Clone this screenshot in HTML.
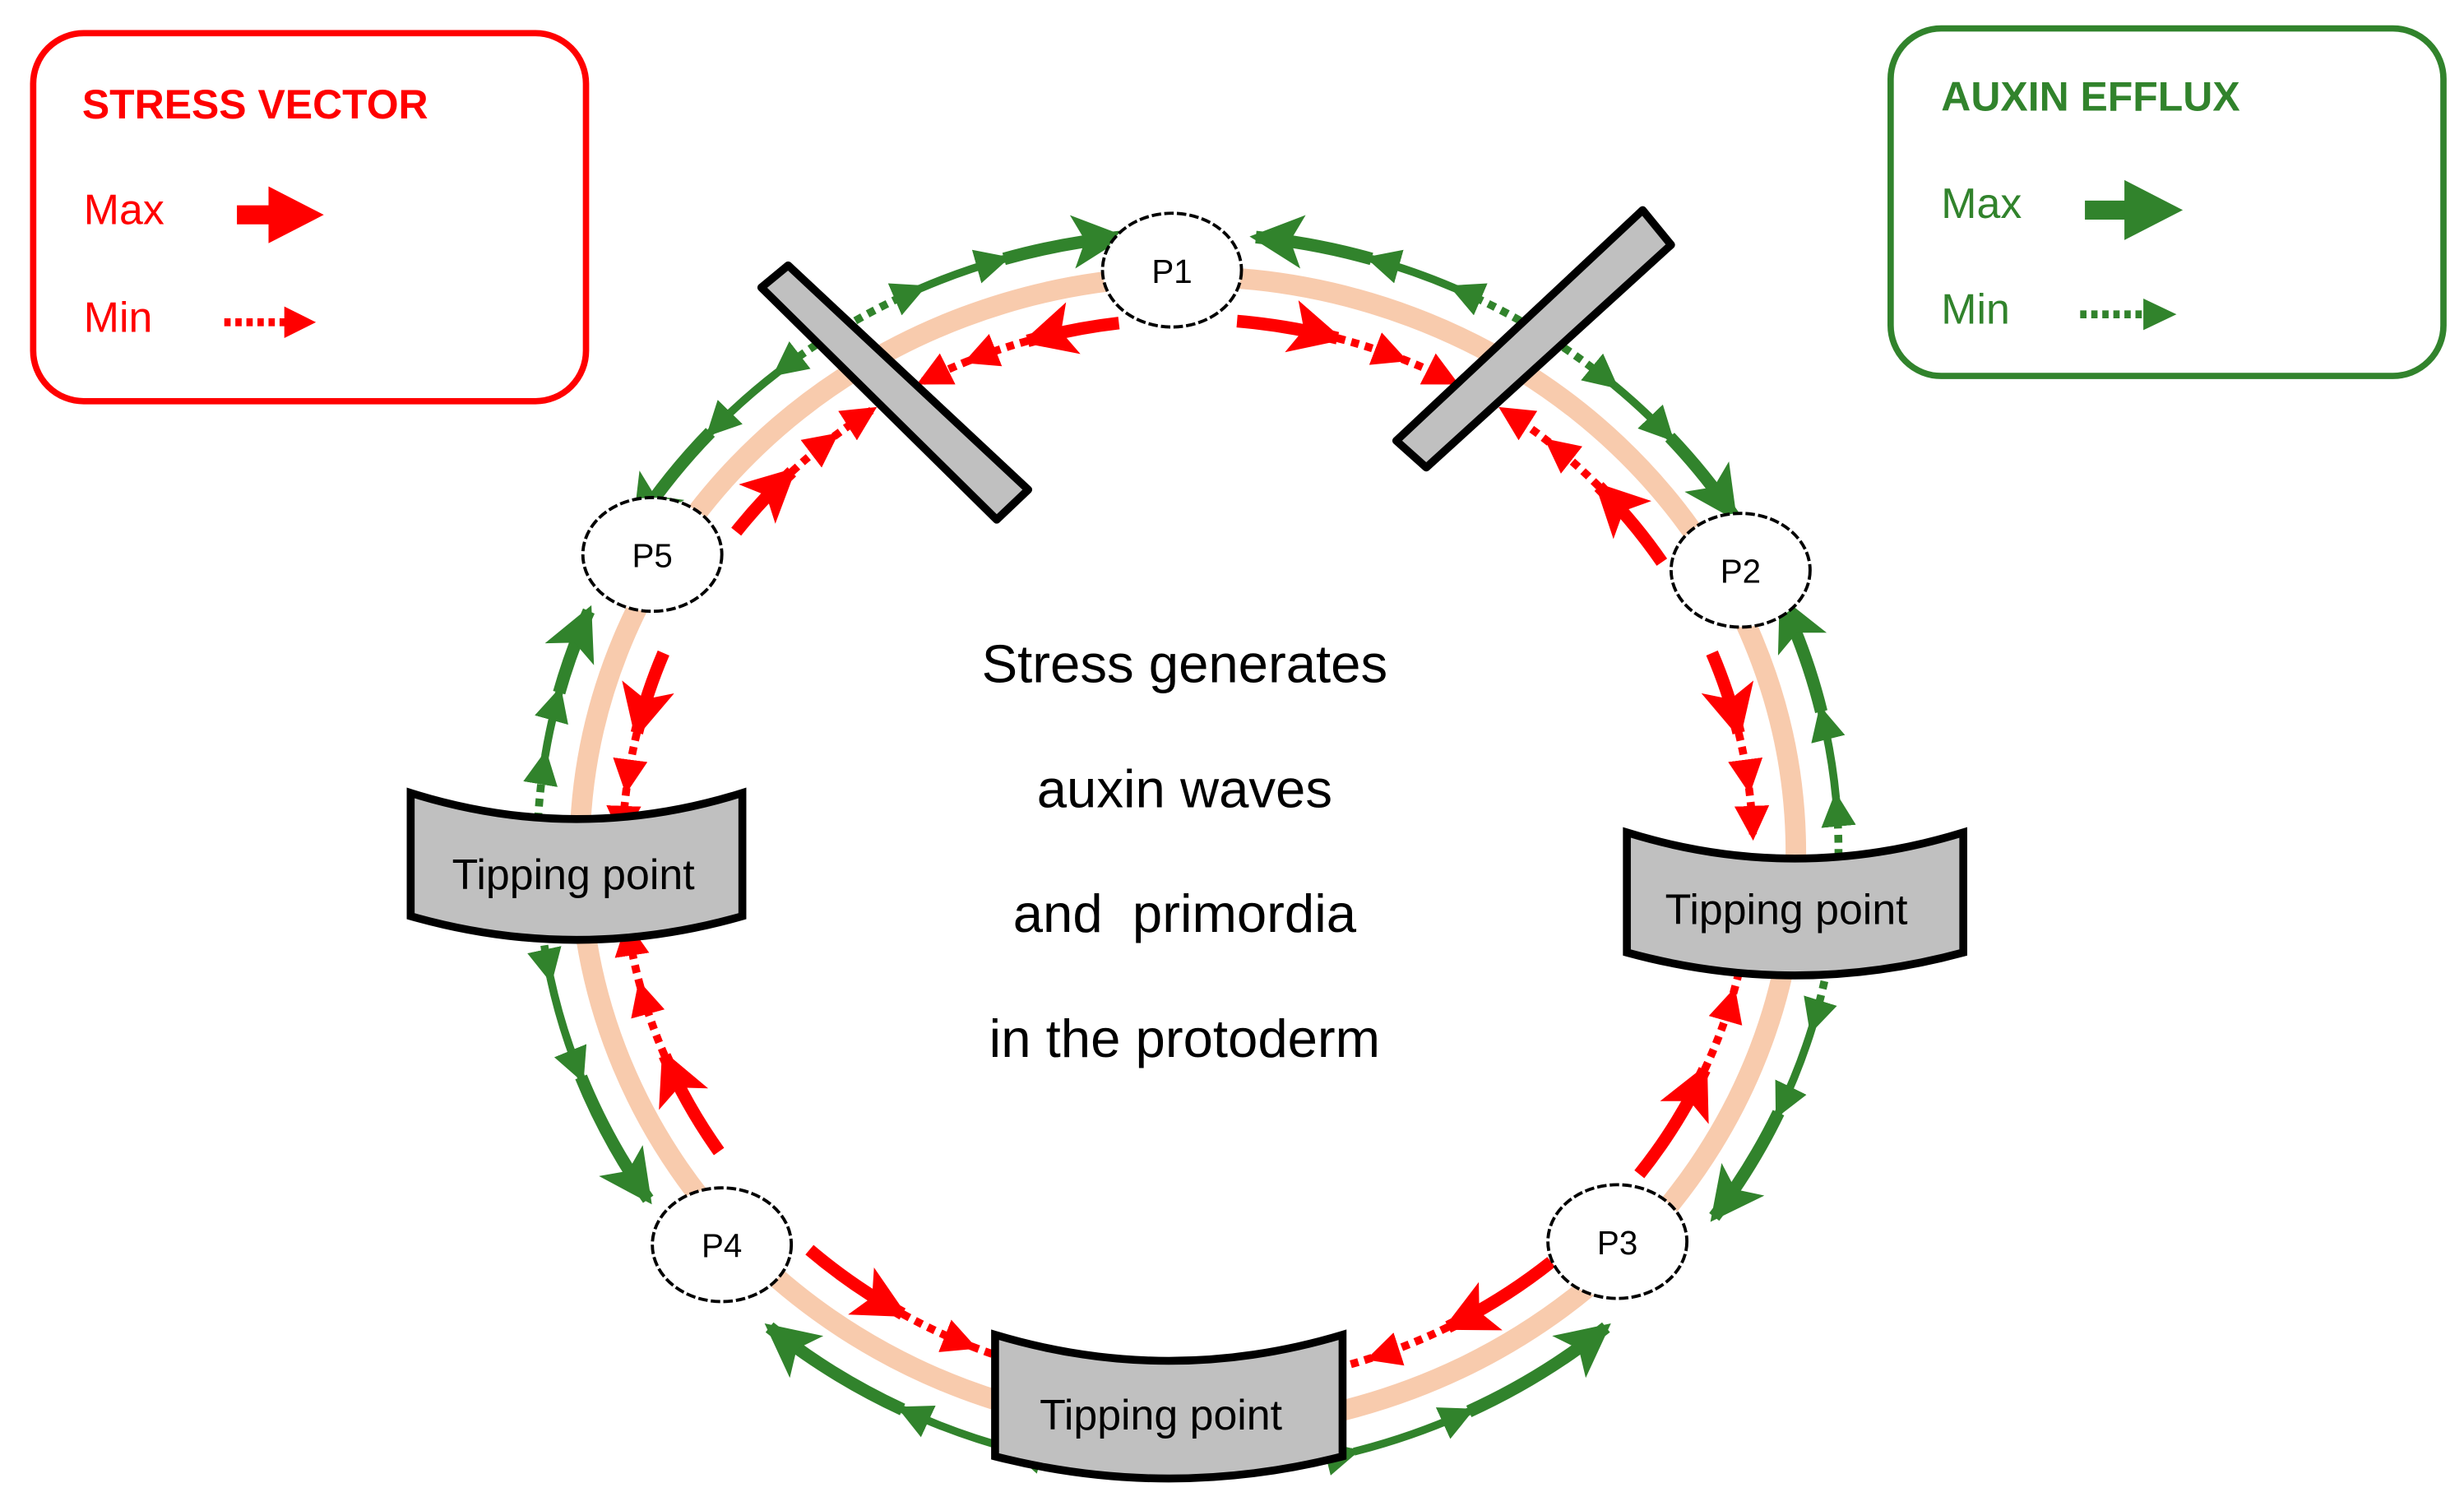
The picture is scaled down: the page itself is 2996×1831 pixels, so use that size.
<!DOCTYPE html>
<html><head><meta charset="utf-8"><style>
html,body{margin:0;padding:0;background:#fff;}
svg{display:block;}
text{font-family:"Liberation Sans","DejaVu Sans",sans-serif;}
</style></head><body>
<svg id="s" width="2996" height="1831" viewBox="0 0 1560 953.4" xmlns="http://www.w3.org/2000/svg">
<defs>
<marker id="rh" markerUnits="userSpaceOnUse" markerWidth="40" markerHeight="40" refX="30" refY="17" orient="auto"><path d="M0,0 L34,17 L0,34 L8,17 Z" fill="#ff0000"/></marker>
<marker id="gh" markerUnits="userSpaceOnUse" markerWidth="40" markerHeight="40" refX="30" refY="17" orient="auto"><path d="M0,0 L34,17 L0,34 L8,17 Z" fill="#31832c"/></marker>
<marker id="rs" markerUnits="userSpaceOnUse" markerWidth="26" markerHeight="26" refX="18" refY="11" orient="auto"><path d="M0,0 L22,11 L0,22 Z" fill="#ff0000"/></marker>
<marker id="gs" markerUnits="userSpaceOnUse" markerWidth="26" markerHeight="26" refX="18" refY="11" orient="auto"><path d="M0,0 L22,11 L0,22 Z" fill="#31832c"/></marker>
</defs>
<rect width="1560" height="953.4" fill="#fff"/>
<rect x="21" y="21" width="350" height="233" rx="32" fill="none" stroke="#ff0000" stroke-width="4"/>
<text x="52" y="75" font-size="26" font-weight="bold" fill="#ff0000">STRESS VECTOR</text>
<text x="53" y="142" font-size="27" fill="#ff0000">Max</text>
<line x1="150" y1="136" x2="180" y2="136" stroke="#ff0000" stroke-width="12"/>
<path d="M170,118 L205,136 L170,154 Z" fill="#ff0000"/>
<text x="53" y="210" font-size="27" fill="#ff0000">Min</text>
<line x1="142" y1="204" x2="185" y2="204" stroke="#ff0000" stroke-width="5" stroke-dasharray="4 3"/>
<path d="M180,194 L200,204 L180,214 Z" fill="#ff0000"/>

<rect x="1197" y="18" width="350" height="220" rx="32" fill="none" stroke="#31832c" stroke-width="4"/>
<text x="1229" y="70" font-size="26" font-weight="bold" fill="#31832c">AUXIN EFFLUX</text>
<text x="1229" y="138" font-size="27" fill="#31832c">Max</text>
<line x1="1320" y1="133" x2="1352" y2="133" stroke="#31832c" stroke-width="12"/>
<path d="M1345,114 L1382,133 L1345,152 Z" fill="#31832c"/>
<text x="1229" y="205" font-size="27" fill="#31832c">Min</text>
<line x1="1317" y1="199" x2="1362" y2="199" stroke="#31832c" stroke-width="5" stroke-dasharray="4 3"/>
<path d="M1357,189 L1378,199 L1357,209 Z" fill="#31832c"/>

<ellipse cx="752" cy="540" rx="385" ry="365" fill="none" stroke="#f8cbad" stroke-width="13"/>
<g id="arrows"></g>

<polygon points="482,182 499,168 651,310 631,329" fill="#c0c0c0" stroke="#000" stroke-width="5" stroke-linejoin="round"/>
<polygon points="1040,133 1058,155 903,296 884,279" fill="#c0c0c0" stroke="#000" stroke-width="5" stroke-linejoin="round"/>

<path d="M260,502 Q365,535 470,502 L470,580 Q365,610 260,580 Z" fill="#c0c0c0" stroke="#000" stroke-width="5"/>
<text x="363" y="563" font-size="27" text-anchor="middle" fill="#000">Tipping point</text>
<path d="M1030,527 Q1136,560 1243,527 L1243,603 Q1136,632 1030,603 Z" fill="#c0c0c0" stroke="#000" stroke-width="5"/>
<text x="1131" y="585" font-size="27" text-anchor="middle" fill="#000">Tipping point</text>
<path d="M630,845 Q740,878 850,845 L850,922 Q740,950 630,922 Z" fill="#c0c0c0" stroke="#000" stroke-width="5"/>
<text x="735" y="905" font-size="27" text-anchor="middle" fill="#000">Tipping point</text>

<g fill="#fff" stroke="#000" stroke-width="2" stroke-dasharray="6 2">
<ellipse cx="742" cy="171" rx="44" ry="36"/>
<ellipse cx="1102" cy="361" rx="44" ry="36"/>
<ellipse cx="1024" cy="786" rx="44" ry="36"/>
<ellipse cx="457" cy="788" rx="44" ry="36"/>
<ellipse cx="413" cy="351" rx="44" ry="36"/>
</g>
<g font-size="21" text-anchor="middle" fill="#000">
<text x="742" y="179">P1</text>
<text x="1102" y="369">P2</text>
<text x="1024" y="794">P3</text>
<text x="457" y="796">P4</text>
<text x="413" y="359">P5</text>
</g>

<g font-size="34" text-anchor="middle" fill="#000">
<text x="750" y="432">Stress generates</text>
<text x="750" y="511">auxin waves</text>
<text x="750" y="590" xml:space="preserve">and  primordia</text>
<text x="750" y="669">in the protoderm</text>
</g>
</svg>
<script>
(function(){
var cx=752,cy=540,NS="http://www.w3.org/2000/svg";
var g=document.getElementById("arrows");
function p(rx,ry,t){t=t*Math.PI/180;return [cx+rx*Math.cos(t),cy-ry*Math.sin(t)];}
function arc(rx,ry,t1,t2){var a=p(rx,ry,t1),b=p(rx,ry,t2);var sw=t2<t1?1:0;
return "M"+a[0].toFixed(1)+","+a[1].toFixed(1)+" A"+rx+","+ry+" 0 0 "+sw+" "+b[0].toFixed(1)+","+b[1].toFixed(1);}
function add(d,col,w,dash,m){var e=document.createElementNS(NS,"path");e.setAttribute("d",d);e.setAttribute("fill","none");
e.setAttribute("stroke",col);e.setAttribute("stroke-width",w);if(dash)e.setAttribute("stroke-dasharray",dash);if(m)e.setAttribute("marker-end","url(#"+m+")");g.appendChild(e);}
var red=[[85,62],[97,118],[33,56],[22,2],[143,124],[158,178],[-37,-8],[-50,-78],[-146,-172],[-132,-106]];
var R=[358,338],G=[412,392];
red.forEach(function(a){var t1=a[0],t2=a[1],tm=t1+(t2-t1)*0.45,tq=t1+(t2-t1)*0.75;
add(arc(R[0],R[1],t1,tm),"#ff0000",8,null,"rh");
add(arc(R[0],R[1],tm,tq),"#ff0000",5,"5 4","rs");
add(arc(R[0],R[1],tq,t2),"#ff0000",5,"5 4","rs");});
var grn=[[122,96],[58,84],[56,33],[-3,24],[-8,-36],[-86,-50],[-95,-130],[-178,-146],[177,157],[121,148]];
grn.forEach(function(a){var t1=a[0],t2=a[1],tm=t1+(t2-t1)*0.3,tq=t1+(t2-t1)*0.6;
add(arc(G[0],G[1],t1,tm),"#31832c",5,"5 4","gs");
add(arc(G[0],G[1],tm,tq),"#31832c",5,null,"gs");
add(arc(G[0],G[1],tq,t2),"#31832c",8,null,"gh");});
})();
</script>
</body></html>
